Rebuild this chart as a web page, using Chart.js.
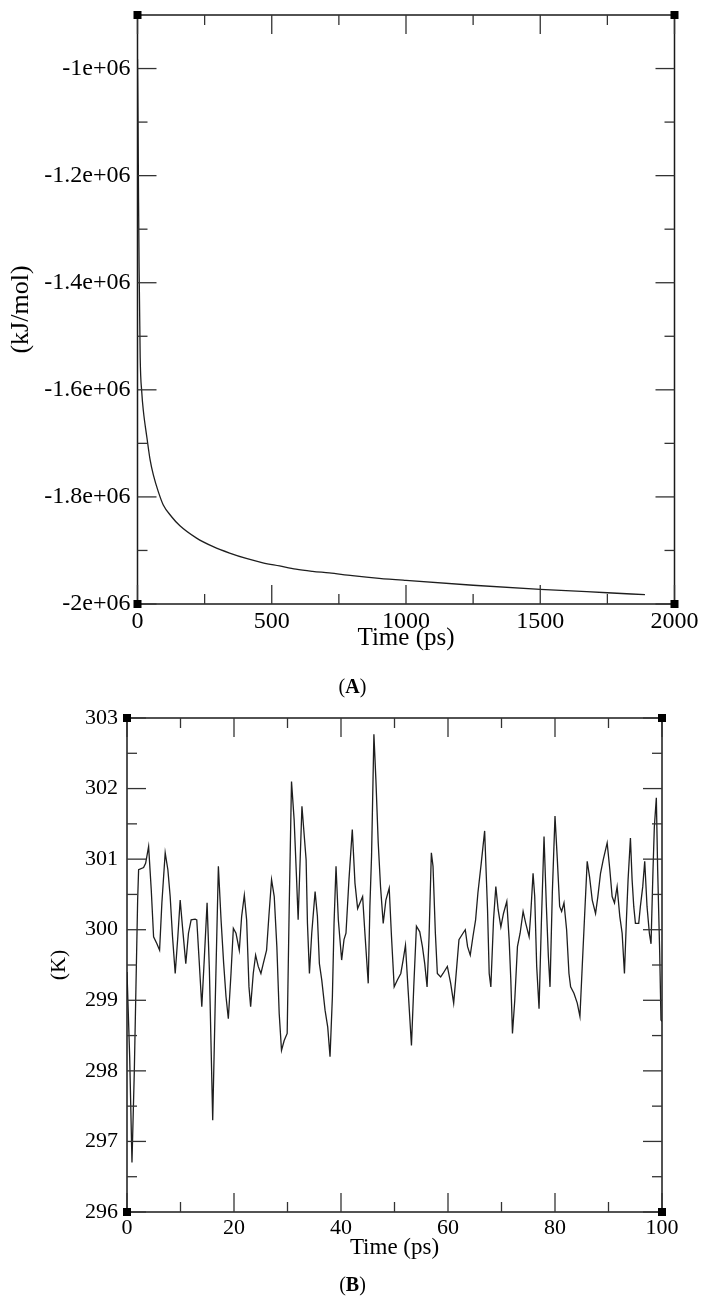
<!DOCTYPE html>
<html>
<head>
<meta charset="utf-8">
<script src="https://cdn.jsdelivr.net/npm/chart.js@4"></script>
<style>
  body { margin: 0; background: #fff; }
  #page { position: relative; width: 705px; height: 1300px; overflow: hidden; }
  canvas { position: absolute; left: 0; }
  .panel { position: absolute; left: 0; width: 705px; text-align: center;
           font: 20px 'Liberation Serif', serif; color: #000; }
</style>
</head>
<body>
<div id="page">
  <canvas id="chartA" width="705" height="700" style="top:0"></canvas>
  <canvas id="chartB" width="705" height="600" style="top:700px"></canvas>
  <div class="panel" style="top:675px">(<b>A</b>)</div>
  <div class="panel" style="top:1273px">(<b>B</b>)</div>
</div>
<script>
// ---- (A) potential energy vs time ----
const timeA = [0, 2, 4, 6, 10, 16, 22, 35, 47, 59, 78, 96, 127, 158, 220, 282, 343, 405,
  467, 529, 590, 652, 714, 800, 900, 1000, 1250, 1500, 1750, 1890];
const energyA = [-0.982e6, -1.1e6, -1.25e6, -1.373e6, -1.54e6, -1.605e6, -1.64e6, -1.689e6,
  -1.731e6, -1.759e6, -1.791e6, -1.815e6, -1.837e6, -1.854e6, -1.877e6, -1.893e6, -1.905e6,
  -1.915e6, -1.923e6, -1.929e6, -1.935e6, -1.939e6, -1.942e6, -1.947e6, -1.952e6, -1.956e6,
  -1.965e6, -1.9725e6, -1.979e6, -1.9826e6];
const xTicksA = [0, 500, 1000, 1500, 2000];
const yTicksA = [-2e6, -1.8e6, -1.6e6, -1.4e6, -1.2e6, -1e6];
const yTickLabelsA = ['-2e+06', '-1.8e+06', '-1.6e+06', '-1.4e+06', '-1.2e+06', '-1e+06'];

// ---- (B) temperature vs time ----
const timeB = [0, 0.5, 0.93, 1.37, 1.99, 2.17, 3.1, 3.48, 4.04, 4.53, 4.97, 5.59, 6.09, 6.52,
  7.14, 7.64, 8.07, 8.51, 9.01, 9.5, 9.94, 10.37, 10.99, 11.49, 11.99, 12.73, 13.04, 13.48,
  13.98, 14.47, 14.97, 15.4, 16.02, 16.46, 17.08, 17.58, 18.07, 18.51, 18.94, 19.44, 19.88,
  20.37, 20.99, 21.43, 21.93, 22.36, 22.8, 23.11, 23.6, 24.04, 24.53, 25.03, 25.47, 26.09,
  26.52, 27.02, 27.52, 28.01, 28.45, 28.88, 29.38, 29.94, 30.31, 30.75, 31.24, 31.68, 31.99,
  32.7, 33.48, 33.73, 34.1, 34.53, 35.16, 35.59, 35.96, 36.4, 37.02, 37.52, 37.95, 38.39,
  38.7, 39.07, 39.5, 40.12, 40.56, 40.93, 41.49, 42.11, 42.61, 43.11, 43.54, 44.04, 44.47,
  45.09, 45.4, 45.71, 46.15, 46.52, 46.96, 47.39, 47.89, 48.39, 49.01, 49.44, 49.94, 50.56,
  51.18, 51.61, 52.05, 52.55, 53.17, 53.6, 54.1, 54.72, 55.22, 55.65, 56.09, 56.46, 56.89,
  57.2, 57.64, 58.01, 58.63, 59.07, 59.88, 60.5, 61.06, 61.43, 62.05, 62.8, 63.23, 63.66,
  64.16, 64.66, 65.16, 65.59, 66.21, 66.85, 67.39, 67.7, 68.01, 68.51, 68.94, 69.38, 69.88,
  70.37, 70.99, 71.43, 71.74, 72.05, 72.48, 72.98, 73.48, 74.04, 74.53, 75.16, 75.47, 75.9,
  76.21, 76.58, 77.02, 77.45, 77.95, 78.39, 78.76, 79.07, 79.5, 80.0, 80.43, 80.87, 81.24,
  81.68, 82.17, 82.61, 82.92, 83.54, 84.16, 84.66, 85.09, 85.53, 86.02, 86.46, 86.96, 87.58,
  88.01, 88.51, 89.01, 89.75, 90.25, 90.68, 91.12, 91.61, 92.11, 92.55, 92.98, 93.35, 93.66,
  94.1, 94.41, 94.72, 95.03, 95.65, 95.96, 96.4, 96.77, 97.2, 97.64, 97.95, 98.32, 98.57,
  98.94, 99.19, 99.57, 99.81, 100];
const tempB = [299.4, 298.2, 296.7, 298.0, 300.42, 300.85, 300.88, 300.94, 301.18, 300.57,
  299.9, 299.8, 299.71, 300.38, 301.09, 300.85, 300.47, 299.9, 299.38, 299.9, 300.42, 300.04,
  299.52, 299.95, 300.14, 300.15, 300.14, 299.57, 298.91, 299.62, 300.38, 299.43, 297.3,
  298.86, 300.9, 300.14, 299.52, 299.05, 298.74, 299.38, 300.02, 299.95, 299.71, 300.19,
  300.49, 300.14, 299.19, 298.91, 299.38, 299.64, 299.48, 299.38, 299.52, 299.71, 300.19,
  300.71, 300.47, 299.76, 298.81, 298.29, 298.43, 298.53, 300.28, 302.1, 301.56, 300.75,
  300.14, 301.75, 300.99, 300.09, 299.38, 299.95, 300.54, 300.19, 299.52, 299.29, 298.86,
  298.62, 298.2, 299.05, 300.09, 300.9, 300.14, 299.57, 299.86, 299.95, 300.71, 301.42,
  300.66, 300.3, 300.38, 300.47, 299.95, 299.24, 300.33, 301.04, 302.77, 302.13, 301.23,
  300.61, 300.09, 300.42, 300.59, 299.9, 299.19, 299.29, 299.38, 299.57, 299.78, 299.14,
  298.36, 299.19, 300.05, 299.97, 299.76, 299.52, 299.19, 299.9, 301.09, 300.9, 299.95,
  299.38, 299.33, 299.38, 299.48, 299.24, 298.96, 299.29, 299.86, 299.95, 300.0, 299.76,
  299.64, 299.9, 300.14, 300.52, 300.94, 301.4, 300.28, 299.38, 299.19, 300.14, 300.61,
  300.28, 300.04, 300.23, 300.4, 299.86, 299.29, 298.53, 299.0, 299.76, 299.95, 300.26,
  300.09, 299.9, 300.23, 300.8, 300.47, 299.48, 298.88, 300.09, 301.32, 300.33, 299.62,
  299.19, 300.52, 301.61, 301.0, 300.33, 300.26, 300.38, 300.0, 299.38, 299.19, 299.1,
  298.96, 298.77, 299.48, 300.19, 300.97, 300.75, 300.42, 300.23, 300.47, 300.8, 300.99,
  301.23, 300.85, 300.47, 300.38, 300.61, 300.19, 299.95, 299.38, 300.14, 300.71, 301.3,
  300.71, 300.33, 300.09, 300.09, 300.33, 300.61, 300.97, 300.33, 299.95, 299.8, 300.85,
  301.46, 301.87, 300.85, 299.67, 298.72, 298.7];
const xTicksB = [0, 20, 40, 60, 80, 100];
const yTicksB = [296, 297, 298, 299, 300, 301, 302, 303];

Chart.defaults.font.family = "'Liberation Serif', 'Times New Roman', serif";
Chart.defaults.color = '#000';

// minor ticks sit halfway between the majors
const halves = (ticks) => ticks.slice(1).map((v, i) => (v + ticks[i]) / 2);

// xmgrace-style frame: box, inward ticks on all four sides, corner squares
const gracePlot = {
  id: 'gracePlot',
  afterDraw(c, args, o) {
    const { ctx, chartArea: a } = c;
    const x = c.scales.x, y = c.scales.y;
    ctx.save();
    ctx.strokeStyle = '#1a1a1a';
    ctx.lineWidth = 1.5;
    ctx.strokeRect(a.left, a.top, a.right - a.left, a.bottom - a.top);
    const seg = (x1, y1, x2, y2) => { ctx.beginPath(); ctx.moveTo(x1, y1); ctx.lineTo(x2, y2); ctx.stroke(); };
    ctx.lineWidth = 1.3;
    ctx.strokeStyle = '#333';
    const drawX = (vals, len) => vals.forEach(v => {
      const p = x.getPixelForValue(v);
      seg(p, a.bottom, p, a.bottom - len);
      seg(p, a.top, p, a.top + len);
    });
    const drawY = (vals, len) => vals.forEach(v => {
      const p = y.getPixelForValue(v);
      seg(a.left, p, a.left + len, p);
      seg(a.right, p, a.right - len, p);
    });
    drawX(o.xMajor, 19); drawX(halves(o.xMajor), 10);
    drawY(o.yMajor, 19); drawY(o.yMinor || halves(o.yMajor), 10);
    ctx.fillStyle = '#000';
    [[a.left, a.top], [a.right, a.top], [a.left, a.bottom], [a.right, a.bottom]].forEach(([cx, cy]) => {
      ctx.fillRect(cx - 4, cy - 4, 8, 8);
    });
    ctx.restore();
  }
};

function makeChart(id, cfg) {
  return new Chart(document.getElementById(id), {
    type: 'line',
    data: {
      datasets: [{
        data: cfg.xs.map((t, i) => ({ x: t, y: cfg.ys[i] })),
        borderColor: '#1e1e1e',
        borderWidth: 1.3,
        pointRadius: 0,
        tension: 0,
        cubicInterpolationMode: cfg.smooth ? 'monotone' : 'default',
      }],
    },
    options: {
      responsive: false,
      animation: false,
      devicePixelRatio: 1,
      layout: { padding: cfg.padding },
      plugins: {
        legend: { display: false },
        tooltip: { enabled: false },
        gracePlot: { xMajor: cfg.xTicks, yMajor: cfg.yTicks, yMinor: cfg.yMinor },
      },
      scales: {
        x: {
          type: 'linear',
          min: cfg.xTicks[0],
          max: cfg.xTicks[cfg.xTicks.length - 1],
          grid: { display: false, drawTicks: false },
          border: { display: false },
          afterBuildTicks: (s) => { s.ticks = cfg.xTicks.map(v => ({ value: v })); },
          afterFit: (s) => { s.height = cfg.xAxisHeight; s.paddingLeft = 0; s.paddingRight = 0; },
          ticks: { autoSkip: false, maxRotation: 0, padding: cfg.xTickPad,
                   font: { size: cfg.tickSize }, callback: (v) => String(v) },
          title: { display: true, text: 'Time (ps)', font: { size: cfg.xTitleSize },
                   padding: { top: 0, bottom: cfg.xTitlePad } },
        },
        y: {
          type: 'linear',
          min: cfg.yMin,
          max: cfg.yMax,
          grid: { display: false, drawTicks: false },
          border: { display: false },
          afterBuildTicks: (s) => { s.ticks = cfg.yTicks.map(v => ({ value: v })); },
          afterFit: (s) => { s.width = cfg.yAxisWidth; s.paddingTop = 0; s.paddingBottom = 0; },
          ticks: { autoSkip: false, padding: cfg.yTickPad, font: { size: cfg.tickSize },
                   callback: cfg.yLabel },
          title: { display: true, text: cfg.yTitle, font: { size: cfg.yTitleSize },
                   padding: { top: cfg.yTitlePad, bottom: 0 } },
        },
      },
    },
    plugins: [gracePlot],
  });
}

makeChart('chartA', {
  xs: timeA, ys: energyA, smooth: true,
  xTicks: xTicksA, yTicks: yTicksA,
  yMinor: [-1.9e6, -1.7e6, -1.5e6, -1.3e6, -1.1e6],
  yMin: -2e6, yMax: -0.9e6,
  yLabel: (v) => yTickLabelsA[yTicksA.indexOf(v)],
  padding: { top: 15, right: 30.5, left: 0, bottom: 0 },
  xAxisHeight: 96, yAxisWidth: 137.5,
  tickSize: 24, xTitleSize: 25, yTitleSize: 26, xTickPad: 3, yTickPad: 7,
  xTitlePad: 47, yTitlePad: 6, yTitle: '(kJ/mol)',
});

makeChart('chartB', {
  xs: timeB, ys: tempB, smooth: false,
  xTicks: xTicksB, yTicks: yTicksB,
  yMin: 296, yMax: 303,
  yLabel: (v) => String(v),
  padding: { top: 18, right: 43, left: 0, bottom: 0 },
  xAxisHeight: 88, yAxisWidth: 127,
  tickSize: 22, xTitleSize: 23, yTitleSize: 22, xTickPad: 3, yTickPad: 9,
  xTitlePad: 38, yTitlePad: 46, yTitle: '(K)',
});
</script>
</body>
</html>
